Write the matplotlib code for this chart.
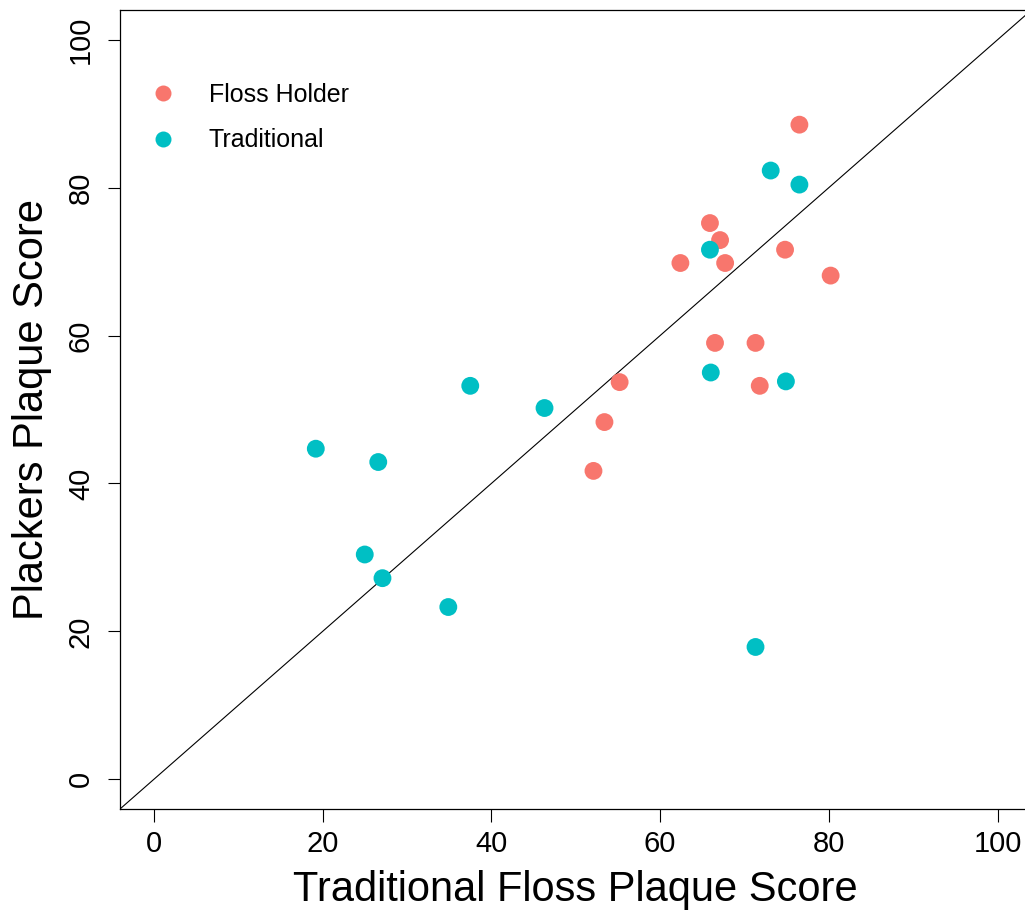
import matplotlib
matplotlib.use("Agg")
import matplotlib.pyplot as plt
from matplotlib.lines import Line2D

plt.rcParams['font.family'] = ['Liberation Sans', 'DejaVu Sans']

# Data
holder_x = [76.5, 65.9, 67.1, 62.4, 67.7, 74.8, 80.2, 66.5, 71.3, 71.8, 55.2, 53.4, 52.1]
holder_y = [88.5, 75.2, 72.9, 69.8, 69.8, 71.6, 68.1, 59.0, 59.0, 53.2, 53.7, 48.3, 41.7]
trad_x = [73.1, 76.5, 65.9, 66.0, 74.9, 37.5, 46.3, 19.2, 26.6, 25.0, 27.1, 34.9, 71.3]
trad_y = [82.3, 80.4, 71.6, 55.0, 53.8, 53.2, 50.2, 44.7, 42.9, 30.4, 27.2, 23.3, 17.9]
groups = ["Floss Holder", "Traditional"]
colors = ["#F8766D", "#00BFC4"]
ticks = [0, 20, 40, 60, 80, 100]

fig = plt.figure(figsize=(10.25, 9.11), dpi=100)
ax = fig.add_axes([120/1025, 102/911, 911.5/1025, 799/911])

ax.scatter(holder_x, holder_y, s=165, color=colors[0], edgecolors='none', zorder=3)
ax.scatter(trad_x, trad_y, s=165, color=colors[1], edgecolors='none', zorder=3)
ax.axline((0, 0), slope=1, color='black', lw=0.8, zorder=2)

ax.set_xlim(-4, 104)
ax.set_ylim(-4, 104)
ax.set_xticks(ticks)
ax.set_yticks(ticks)
ax.tick_params(axis='both', length=9, width=0.8, labelsize=21)
ax.tick_params(axis='x', pad=6)
ax.tick_params(axis='y', pad=9)
for lab in ax.get_yticklabels():
    lab.set_rotation(90)
    lab.set_va('center')
for s in ax.spines.values():
    s.set_linewidth(0.9)
ax.spines['right'].set_visible(False)

ax.set_xlabel("Traditional Floss Plaque Score", fontsize=30, labelpad=9)
ax.set_ylabel("Plackers Plaque Score", fontsize=30, labelpad=11)

handles = [Line2D([], [], marker='o', ls='none', color=c, markersize=11.5, markeredgewidth=0) for c in colors]
ax.legend(handles, groups, loc='upper left', bbox_to_anchor=(0.0, 0.946), frameon=False,
          fontsize=18, handlelength=1.0, handletextpad=1.35, labelspacing=0.85, borderaxespad=0.8)

fig.savefig("out.png", dpi=100)
